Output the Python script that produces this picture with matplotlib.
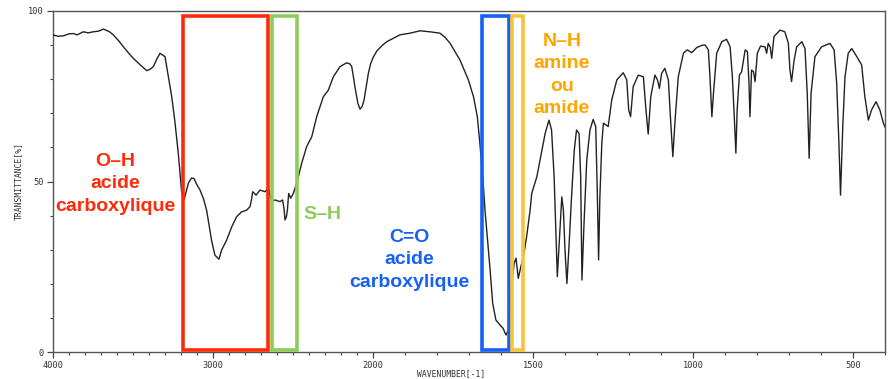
import numpy as np
import matplotlib
matplotlib.use("Agg")
import matplotlib.pyplot as plt
from matplotlib.patches import Rectangle
from matplotlib.ticker import FixedLocator, NullFormatter

# ---------------- data ----------------
wavenumber = [
    4000, 3970, 3935, 3900, 3873, 3850, 3810, 3780, 3748, 3715, 3685, 3650, 3623, 3590,
    3560, 3530, 3498, 3450, 3414, 3390, 3373, 3350, 3331, 3300, 3279, 3258, 3237, 3217,
    3196, 3181, 3165, 3154, 3135, 3119, 3100, 3081, 3060, 3040, 3020, 3008, 2988, 2975,
    2963, 2955, 2946, 2915, 2883, 2852, 2821, 2790, 2769, 2760, 2752, 2740, 2731, 2706,
    2675, 2654, 2640, 2633, 2613, 2581, 2565, 2556, 2550, 2542, 2535, 2527, 2514, 2498,
    2477, 2446, 2415, 2383, 2352, 2310, 2279, 2248, 2206, 2165, 2145, 2133, 2120, 2113,
    2095, 2081, 2068, 2056, 2040, 2029, 2015, 2000, 1988, 1970, 1957, 1916, 1884, 1853,
    1822, 1791, 1775, 1759, 1745, 1728, 1702, 1686, 1674, 1666, 1657, 1650, 1643, 1634,
    1626, 1616, 1603, 1593, 1587, 1584, 1577, 1570, 1559, 1553, 1546, 1538, 1530, 1520,
    1509, 1504, 1488, 1478, 1462, 1450, 1442, 1434, 1429, 1424, 1418, 1410, 1405, 1400,
    1394, 1387, 1379, 1371, 1364, 1356, 1351, 1347, 1341, 1332, 1322, 1312, 1304, 1299,
    1295, 1291, 1285, 1280, 1272, 1265, 1254, 1238, 1218, 1207, 1201, 1195, 1187, 1171,
    1155, 1147, 1140, 1132, 1119, 1111, 1105, 1098, 1088, 1077, 1070, 1063, 1056, 1046,
    1030, 1018, 1004, 988, 970, 962, 952, 947, 941, 936, 926, 910, 895, 884,
    877, 871, 866, 862, 855, 848, 837, 830, 825, 822, 817, 811, 806, 799,
    789, 775, 770, 765, 759, 754, 747, 728, 713, 702, 697, 692, 684, 676,
    660, 650, 643, 637, 631, 619, 598, 572, 559, 551, 544, 539, 532, 525,
    515, 504, 488, 473, 463, 452, 442, 428, 416, 405, 400,
]
transmittance = [
    93.0, 92.6, 92.7, 93.3, 93.4, 93.0, 93.9, 93.6, 93.9, 94.1, 94.7, 94.0, 93.0, 91.3,
    89.5, 87.8, 86.1, 84.0, 82.5, 83.0, 83.7, 86.0, 87.6, 86.6, 80.7, 74.9, 67.1, 58.3,
    47.0, 44.6, 47.5, 49.5, 51.0, 50.9, 49.0, 47.5, 45.0, 41.6, 36.0, 32.5, 28.4, 27.8,
    27.2, 28.5, 29.9, 32.8, 36.7, 39.7, 41.1, 41.6, 42.6, 44.5, 47.0, 46.5, 46.0, 47.5,
    47.0, 48.0, 45.5, 44.1, 44.6, 44.1, 44.6, 42.0, 38.7, 39.5, 41.6, 46.5, 45.1, 46.5,
    49.5, 55.3, 60.2, 63.1, 69.0, 74.9, 76.8, 80.7, 83.7, 84.8, 84.5, 83.7, 80.0, 77.8,
    73.0, 71.2, 72.0, 73.9, 78.5, 81.7, 84.5, 86.3, 88.3, 90.0, 91.0, 93.0, 93.5, 94.2,
    93.9, 93.5, 92.3, 90.5, 88.3, 85.6, 79.8, 74.9, 69.0, 61.2, 51.4, 41.6, 33.8, 24.0,
    14.3, 9.4, 7.9, 6.9, 5.5, 5.0, 6.5, 16.2, 26.0, 27.5, 21.6, 25.0, 27.9, 33.8,
    41.6, 46.5, 51.4, 56.3, 64.1, 68.0, 65.1, 51.4, 36.7, 22.1, 31.9, 45.5, 41.6, 29.9,
    20.1, 31.9, 46.5, 59.2, 65.1, 64.1, 51.4, 21.1, 36.7, 56.3, 65.1, 68.2, 66.1, 46.5,
    27.0, 45.5, 61.2, 67.1, 66.6, 66.1, 73.9, 79.8, 81.9, 79.8, 71.0, 69.0, 77.8, 81.2,
    80.7, 71.0, 63.9, 74.9, 81.2, 79.8, 77.3, 81.7, 83.2, 79.8, 68.0, 57.3, 68.0, 80.7,
    87.6, 88.6, 87.8, 89.3, 90.0, 90.0, 88.6, 80.7, 69.0, 75.9, 87.6, 91.0, 91.7, 89.5,
    80.7, 69.0, 58.3, 71.0, 81.2, 82.2, 88.6, 88.1, 78.8, 69.0, 82.7, 82.2, 79.3, 87.6,
    89.7, 89.5, 87.6, 90.5, 89.5, 86.1, 92.5, 94.4, 93.9, 90.5, 82.7, 79.3, 85.6, 89.5,
    91.0, 89.0, 75.9, 56.8, 75.9, 86.6, 89.5, 90.5, 88.6, 78.8, 61.2, 46.0, 66.1, 80.7,
    87.6, 89.0, 86.6, 84.2, 74.9, 68.0, 71.0, 73.4, 71.0, 67.1, 66.0,
]

# absorption bands highlighted (wavenumber high, wavenumber low)
band_ranges = [(3188, 2654), (2633, 2477), (1658, 1575), (1567, 1530)]
band_colors = ["#FF2A0A", "#8DCB5A", "#1560F5", "#F8C23A"]

labels = ["O\u2013H\nacide\ncarboxylique", "S\u2013H", "C=O\nacide\ncarboxylique",
          "N\u2013H\namine\nou\namide"]
label_wn = [3612, 2319, 1887, 1410]
label_T = [49.3, 40.2, 27.0, 81.2]
label_colors = ["#FF2A0A", "#8DCB5A", "#1560F5", "#FFA500"]

major_ticks = [4000, 3000, 2000, 1500, 1000, 500]
major_labels = ["4000", "3000", "2000", "1500", "1000", "500"]
y_major = [0, 50, 100]
y_labels = ["0", "50", "100"]


# piecewise IR wavenumber scale (2x expansion below 2000 cm-1)
def fwd(w):
    w = np.asarray(w, dtype=float)
    return np.where(w >= 2000, w, 2 * w - 2000)


def inv(p):
    p = np.asarray(p, dtype=float)
    return np.where(p >= 2000, p, (p + 2000) / 2)


fig = plt.figure(figsize=(8.95, 3.79), dpi=100)
ax = fig.add_axes([53 / 895, 27 / 379, 832 / 895, 341 / 379])
ax.set_xscale("function", functions=(fwd, inv))
ax.set_xlim(4000, 400)
ax.set_ylim(0, 100)

ax.plot(wavenumber, transmittance, color="#222222", lw=1.0, zorder=3)

for (hi, lo), c in zip(band_ranges, band_colors):
    ax.add_patch(Rectangle((lo, 0.6), hi - lo, 97.9, fill=False, edgecolor=c,
                           lw=2.6, zorder=4, joinstyle="miter"))

for txt, xw, yt, c in zip(labels, label_wn, label_T, label_colors):
    ax.text(xw, yt, txt, color=c, ha="center", va="center", fontsize=14,
            fontweight="bold", family="Liberation Sans", linespacing=1.42, zorder=5)

# ticks
minor_x = [w for w in range(4000, 399, -100) if w not in major_ticks]
ax.xaxis.set_major_locator(FixedLocator(major_ticks))
ax.set_xticklabels(major_labels)
ax.xaxis.set_minor_locator(FixedLocator(minor_x))
ax.xaxis.set_minor_formatter(NullFormatter())
ax.yaxis.set_major_locator(FixedLocator(y_major))
ax.set_yticklabels(y_labels)
ax.yaxis.set_minor_locator(FixedLocator(list(range(10, 100, 10))))
ax.yaxis.set_minor_formatter(NullFormatter())

ax.tick_params(axis="both", which="major", direction="out", length=4.5, width=0.9,
               color="#444444", labelsize=6.2, pad=2, labelcolor="#333333")
ax.tick_params(axis="both", which="minor", direction="out", length=2.5, width=0.8,
               color="#444444")
for lab in ax.get_xticklabels() + ax.get_yticklabels():
    lab.set_family("DejaVu Sans Mono")

for s in ax.spines.values():
    s.set_color("#555555")
    s.set_linewidth(1.0)

ax.set_xlabel("WAVENUMBER[-1]", fontsize=5.8, family="DejaVu Sans Mono", color="#333333")
ax.xaxis.set_label_coords(0.478, -0.05)
ax.set_ylabel("TRANSMITTANCE[%]", fontsize=5.8, family="DejaVu Sans Mono", color="#333333")
ax.yaxis.set_label_coords(-0.036, 0.5)

fig.savefig("out.png", dpi=100)
